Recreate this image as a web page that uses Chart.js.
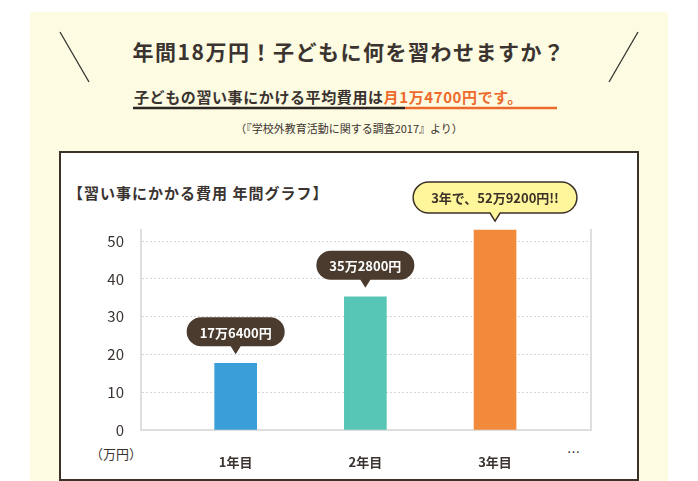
<!DOCTYPE html>
<html><head><meta charset="utf-8">
<script src="https://cdn.jsdelivr.net/npm/chart.js@4"></script>
<style>
body{margin:0;width:698px;height:481px;background:#fff;font-family:"Noto Sans CJK JP","Noto Sans",sans-serif;color:#3a3330;position:relative;overflow:hidden}
.panel{position:absolute;left:30px;top:12px;width:638px;height:469px;background:#fdfbe2}
.t{position:absolute;white-space:nowrap}
.box{position:absolute;left:59px;top:151px;width:576px;height:326px;background:#fff;border:2px solid #3b3128}
canvas{position:absolute;left:0;top:0}
</style></head><body>
<div class="panel"></div>
<svg class="t" style="left:0;top:0" width="698" height="150">
<line x1="60" y1="32" x2="89" y2="82" stroke="#333" stroke-width="1.3"/>
<line x1="638" y1="32" x2="609" y2="82" stroke="#333" stroke-width="1.3"/>
<line x1="133" y1="108" x2="405" y2="108" stroke="#2b2420" stroke-width="2.5"/>
<line x1="405" y1="108" x2="557" y2="108" stroke="#ee6a2c" stroke-width="2.5"/>
</svg>
<div class="t" style="left:0;width:698px;top:36px;text-align:center;font-size:21px;font-weight:bold;letter-spacing:1.5px">年間18万円！子どもに何を習わせますか？</div>
<div class="t" style="left:134px;top:86px;font-size:15px;font-weight:bold;letter-spacing:0.6px">子どもの習い事にかける平均費用は<span style="color:#ee6a2c">月1万4700円です。</span></div>
<div class="t" style="left:0;width:698px;top:120px;text-align:center;font-size:11px">（『学校外教育活動に関する調査2017』より）</div>
<div class="box"></div>
<div class="t" style="left:68px;top:182px;font-size:15px;font-weight:bold;letter-spacing:1px">【習い事にかかる費用 年間グラフ】</div>
<div class="t" style="left:90px;top:444px;font-size:13px">（万円）</div>
<div class="t" style="left:567px;top:442px;font-size:13px">…</div>
<canvas id="c" width="698" height="481"></canvas>
<script>
const years = [1, 2, 3];
const yearLabels = ["1年目", "2年目", "3年目"];
const costs = [17.64, 35.28, 52.92];
const bubbleTexts = ["17万6400円", "35万2800円", "3年で、52万9200円!!"];
const barColors = ["#3a9fd8", "#58c6b6", "#f28a3c"];

// ======== SPEECH BUBBLES ABOVE BARS ========
const bubbles = {
  id: "bubbles",
  afterDatasetsDraw(chart) {
    const ctx = chart.ctx;
    chart.getDatasetMeta(0).data.forEach((bar, i) => {
      const last = i === bubbleTexts.length - 1;
      ctx.save();
      ctx.font = "bold 13px 'Noto Sans CJK JP'";
      const w = ctx.measureText(bubbleTexts[i]).width + (last ? 36 : 26);
      const h = last ? 31 : 29;
      const tip = bar.y - 9;
      const bottom = tip - 8;
      const x = bar.x - w / 2, y = bottom - h;
      ctx.beginPath();
      ctx.roundRect(x, y, w, h, h / 2);
      ctx.moveTo(bar.x - 5, bottom);
      ctx.lineTo(bar.x, tip);
      ctx.lineTo(bar.x + 5, bottom);
      ctx.fillStyle = last ? "#fff69c" : "#4a3b2e";
      ctx.fill();
      if (last) {
        ctx.beginPath();
        ctx.moveTo(bar.x + 5, bottom);
        ctx.arcTo(x + w, bottom, x + w, y, h / 2);
        ctx.arcTo(x + w, y, x, y, h / 2);
        ctx.arcTo(x, y, x, bottom, h / 2);
        ctx.arcTo(x, bottom, bar.x - 5, bottom, h / 2);
        ctx.lineTo(bar.x - 5, bottom);
        ctx.lineTo(bar.x, tip);
        ctx.closePath();
        ctx.strokeStyle = "#3b3128";
        ctx.lineWidth = 1.5;
        ctx.stroke();
      }
      ctx.fillStyle = last ? "#3b3128" : "#fff";
      ctx.textAlign = "center";
      ctx.textBaseline = "middle";
      ctx.fillText(bubbleTexts[i], bar.x, y + h / 2 + 1);
      ctx.restore();
    });
  },
};

// ======== PLOT FRAME (left, right, bottom) ========
const frame = {
  id: "frame",
  beforeDatasetsDraw(chart) {
    const { ctx, chartArea: a } = chart;
    ctx.save();
    ctx.strokeStyle = "#dedede";
    ctx.lineWidth = 2;
    ctx.beginPath();
    ctx.moveTo(a.left, a.top);
    ctx.lineTo(a.left, a.bottom);
    ctx.lineTo(a.right, a.bottom);
    ctx.lineTo(a.right, a.top);
    ctx.stroke();
    ctx.restore();
  },
};

new Chart(document.getElementById("c"), {
  type: "bar",
  data: {
    datasets: [{
      data: years.map((x, i) => ({ x: x, y: costs[i] })),
      backgroundColor: barColors,
      barThickness: 42,
    }],
  },
  options: {
    responsive: false,
    animation: false,
    layout: { padding: { left: 81, top: 229, right: 107, bottom: 11 } },
    plugins: { legend: { display: false }, tooltip: { enabled: false } },
    scales: {
      x: {
        type: "linear",
        offset: false,
        min: 0.27,
        max: 3.74,
        afterFit: (s) => { s.height = 40; },
        afterBuildTicks: (s) => { s.ticks = years.map((v) => ({ value: v })); },
        grid: { display: false },
        border: { display: false },
        ticks: {
          padding: 16,
          color: "#3a3330",
          font: { size: 13, weight: "bold", family: "Noto Sans CJK JP" },
          callback: (v) => yearLabels[years.indexOf(v)] || "",
        },
      },
      y: {
        min: 0,
        max: 53.2,
        afterFit: (s) => { s.width = 60; },
        afterBuildTicks: (s) => { s.ticks = [0, 10, 20, 30, 40, 50].map((v) => ({ value: v })); },
        grid: { color: "#d6d6d6", drawTicks: false },
        border: { display: true, color: "rgba(0,0,0,0)", dash: [2, 2] },
        ticks: {
          padding: 17,
          color: "#3a3330",
          font: { size: 15, family: "Noto Sans CJK JP" },
        },
      },
    },
  },
  plugins: [frame, bubbles],
});
</script>
</body></html>
